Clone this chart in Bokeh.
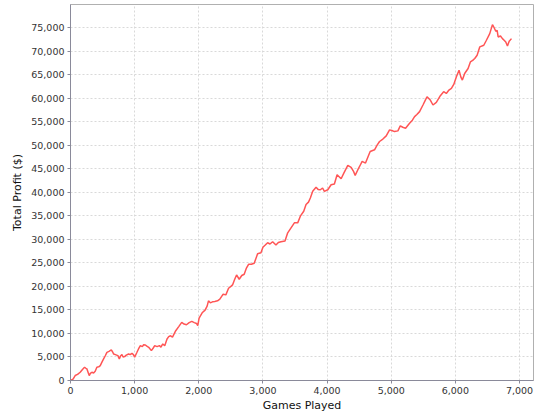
from bokeh.plotting import figure
from bokeh.models import Range1d, NumeralTickFormatter, FixedTicker
from bokeh.embed import file_html
from bokeh.resources import INLINE

games = [0, 40, 73, 110, 151, 190, 219, 240, 255, 275, 292, 310, 333, 360, 385, 411, 440, 464, 490, 516,
         540, 568, 600, 636, 655, 672, 700, 739, 761, 780, 802, 820, 844, 870, 906, 930, 958, 980, 1000, 1036,
         1060, 1089, 1120, 1140, 1167, 1190, 1219, 1261, 1290, 1313, 1350, 1386, 1410, 1438, 1469, 1505, 1531, 1560, 1590, 1641,
         1690, 1734, 1770, 1808, 1850, 1891, 1930, 1964, 1984, 2005, 2057, 2098, 2130, 2151, 2180, 2214, 2250, 2292, 2328, 2380,
         2422, 2464, 2500, 2526, 2560, 2589, 2630, 2670, 2708, 2740, 2776, 2820, 2864, 2917, 2969, 3000, 3036, 3073, 3110, 3151,
         3203, 3240, 3281, 3344, 3386, 3438, 3490, 3542, 3583, 3636, 3672, 3710, 3739, 3776, 3828, 3860, 3895, 3930, 3958, 4011,
         4063, 4114, 4156, 4219, 4261, 4323, 4375, 4410, 4438, 4480, 4520, 4547, 4599, 4640, 4672, 4740, 4780, 4818, 4870, 4922,
         4974, 5010, 5052, 5104, 5141, 5180, 5224, 5286, 5330, 5364, 5400, 5442, 5495, 5530, 5558, 5609, 5651, 5703, 5766, 5817,
         5859, 5900, 5938, 5975, 6016, 6057, 6085, 6109, 6145, 6198, 6234, 6270, 6302, 6339, 6380, 6443, 6484, 6536, 6578, 6599,
         6630, 6651, 6667, 6703, 6734, 6760, 6786, 6812, 6839, 6875]

profit = [0, 300, 1060, 1300, 1760, 2400, 2820, 2600, 2470, 1700, 1060, 1500, 1760, 1600, 1970, 2820, 2900, 3170, 3900, 4580,
          5200, 5990, 6200, 6490, 6100, 5640, 5500, 5290, 4580, 5200, 5500, 5000, 5080, 5400, 5640, 5500, 5780, 5500, 4930, 5990,
          6700, 7400, 7200, 7600, 7540, 7300, 7050, 6350, 6900, 7400, 7200, 7400, 7100, 7760, 7400, 8810, 9310, 9500, 9200, 10580,
          11500, 12340, 12000, 11850, 12300, 12550, 12300, 12120, 11640, 13260, 14450, 14960, 15800, 16920, 16500, 16710, 16800, 16920, 17280, 18340,
          18190, 19600, 20000, 20310, 21500, 22420, 21510, 22300, 22570, 23800, 24690, 24700, 24900, 26930, 27140, 28300, 28770, 29260, 29000, 29470,
          28770, 29300, 29470, 29620, 31370, 32430, 33490, 33490, 34910, 35960, 37380, 37900, 38770, 40190, 41040, 40600, 40530, 40900, 40190, 40530,
          41590, 41740, 43710, 42870, 44070, 45690, 45270, 44500, 43580, 44780, 45840, 46540, 46190, 47600, 48660, 49010, 50000, 50770, 51300, 51970,
          53240, 53100, 52880, 53030, 54090, 53800, 53590, 54650, 55300, 56060, 56500, 57120, 58530, 59500, 60290, 59580, 58530, 59080, 60500, 61350,
          60990, 61700, 62040, 62900, 64520, 65930, 64500, 63820, 65220, 66280, 67690, 68000, 68400, 69100, 70870, 71220, 72280, 73690, 75600, 75100,
          74190, 74400, 72980, 73190, 72630, 72300, 71930, 71080, 72070, 72630]

x_ticks = [0, 1000, 2000, 3000, 4000, 5000, 6000, 7000]
y_ticks = [0, 5000, 10000, 15000, 20000, 25000, 30000, 35000, 40000, 45000, 50000, 55000, 60000, 65000, 70000, 75000]

p = figure(width=540, height=420, output_backend="svg", toolbar_location=None,
           x_range=Range1d(0, 7218), y_range=Range1d(0, 79880),
           min_border_left=70, min_border_right=7, min_border_top=4, min_border_bottom=40)

p.background_fill_color = "white"
p.border_fill_color = "white"
p.outline_line_color = "#b0b0b0"
p.outline_line_width = 1

p.line(games, profit, line_color="#ff5555", line_width=1.5)

for ax in (p.xaxis[0], p.yaxis[0]):
    ax.axis_line_color = "#8a8a9a"
    ax.major_tick_line_color = "#8a8a9a"
    ax.major_tick_out = 3
    ax.major_tick_in = 0
    ax.minor_tick_line_color = None
    ax.major_label_text_font = "DejaVu Sans"
    ax.major_label_text_font_size = "9.5px"
    ax.major_label_text_color = "#333333"
    ax.axis_label_text_font = "DejaVu Sans"
    ax.axis_label_text_font_size = "11px"
    ax.axis_label_text_font_style = "normal"
    ax.axis_label_text_color = "#111111"
    ax.formatter = NumeralTickFormatter(format="0,0")

p.xaxis[0].ticker = FixedTicker(ticks=x_ticks)
p.yaxis[0].ticker = FixedTicker(ticks=y_ticks)
p.xaxis[0].axis_label = "Games Played"
p.yaxis[0].axis_label = "Total Profit ($)"
p.xaxis[0].major_label_standoff = 3
p.xaxis[0].axis_label_standoff = 2
p.yaxis[0].major_label_standoff = 3
p.yaxis[0].axis_label_standoff = 4

for g in (p.xgrid[0], p.ygrid[0]):
    g.grid_line_color = "#d9d9d9"
    g.grid_line_dash = "2 2"
    g.grid_line_width = 1
p.xgrid[0].ticker = FixedTicker(ticks=x_ticks)
p.ygrid[0].ticker = FixedTicker(ticks=y_ticks)

open("out.html", "w").write(file_html(p, INLINE))
